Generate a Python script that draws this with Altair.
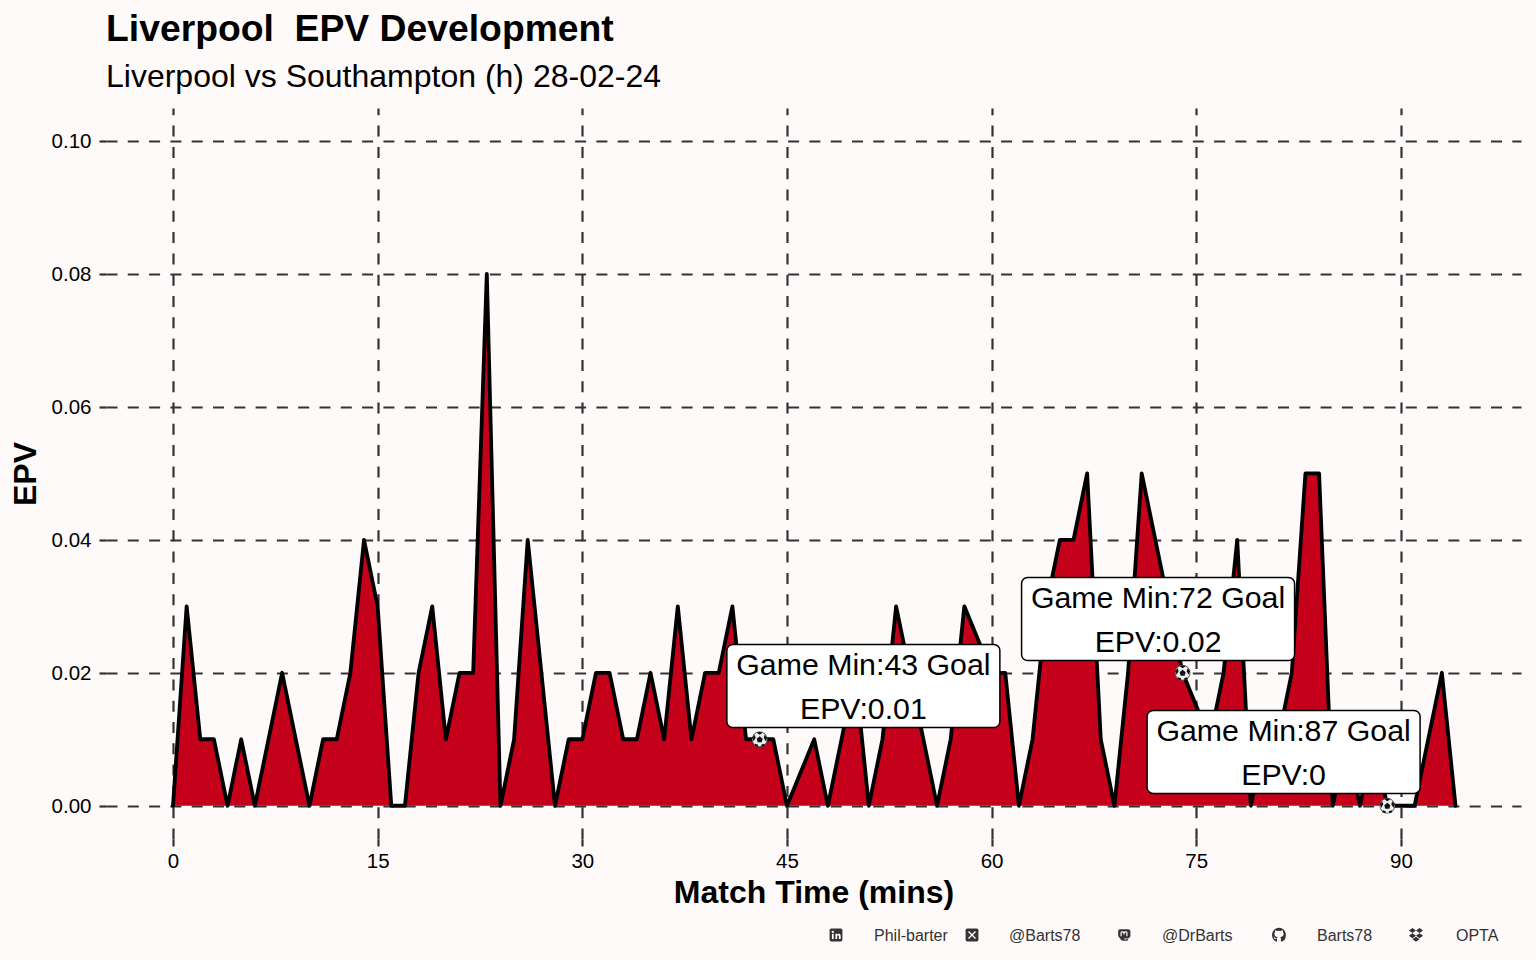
import base64
import altair as alt
import pandas as pd

minutes = [0,1,2,3,4,5,6,7,8,9,10,11,12,13,14,15,16,17,18,19,20,21,22,23,24,25,26,27,28,29,30,
           31,32,33,34,35,36,37,38,39,40,41,42,43,44,45,47,48,49,50,51,52,53,54,55,56,57,58,60,61,62,
           63,64,65,66,67,68,69,70,71,72,73,74,76,77,78,79,80,81,82,83,84,85,86,87,88,89,90,91,93,94]
epv = [0,.03,.01,.01,0,.01,0,.01,.02,.01,0,.01,.01,.02,.04,.03,0,0,.02,.03,.01,.02,.02,.08,0,.01,.04,.02,0,.01,.01,
       .02,.02,.01,.01,.02,.01,.03,.01,.02,.02,.03,.01,.01,.01,0,.01,0,.01,.02,0,.01,.03,.02,.01,0,.01,.03,.02,.02,0,
       .01,.03,.04,.04,.05,.01,0,.02,.05,.04,.03,.02,.01,.02,.04,0,.01,.01,.02,.05,.05,0,.01,0,.01,0,0,0,.02,0]

goal_minutes = [43, 74, 89]
goal_epv = [.01, .02, 0]

label_x = [50.6, 72.2, 81.4]
label_y = [.018, .0281, .0081]
label_text = ["Game Min:43 Goal\nEPV:0.01", "Game Min:72 Goal\nEPV:0.02", "Game Min:87 Goal\nEPV:0"]

x_ticks = [0, 15, 30, 45, 60, 75, 90]
y_ticks = [0, .02, .04, .06, .08, .10]
footer_text = ["Phil-barter", "@Barts78", "@DrBarts", "Barts78", "OPTA"]

BG = "#FFFAFA"
RED = "#C5001A"
GRID = "#333333"
FONT = "Liberation Sans"
LEFT, TOP = 98, 100
W, H = 1415, 731


def uri(svg):
    return "data:image/svg+xml;base64," + base64.b64encode(svg.encode()).decode()


ball = uri('<svg xmlns="http://www.w3.org/2000/svg" viewBox="0 0 32 32">'
           '<circle cx="16" cy="16" r="15" fill="#eeeeee" stroke="#555" stroke-width="2"/>'
           '<polygon points="16,10 22,15 20,22 12,22 10,15" fill="#111"/>'
           '<polygon points="16,1 22,3 16,7 10,3" fill="#111"/>'
           '<polygon points="1,13 6,7 8,13 4,20" fill="#111"/>'
           '<polygon points="31,13 26,7 24,13 28,20" fill="#111"/>'
           '<polygon points="7,25 13,27 12,31 6,29" fill="#111"/>'
           '<polygon points="25,25 19,27 20,31 26,29" fill="#111"/></svg>')
ICON = "#333333"
icons = [
    f'<rect x="1" y="1" width="22" height="22" rx="3" fill="{ICON}"/>'
    '<rect x="5" y="10" width="3" height="9" fill="#fff"/><circle cx="6.5" cy="6.5" r="2" fill="#fff"/>'
    '<path d="M11 19V10h3v1.5c1-2 6-2.5 6 2V19h-3v-5c0-2-3-2-3 0v5z" fill="#fff"/>',
    f'<rect x="1" y="1" width="22" height="22" rx="3" fill="{ICON}"/>'
    '<path d="M6 6L18 18M18 6L6 18" stroke="#fff" stroke-width="2.4"/>',
    f'<path d="M5 2h14c3 0 4 2 4 4v7c0 3-2 5-5 5h-6c0 2 3 2 7 1v2c-6 2-13 1-14-4-2-1-3-3-3-6V6c0-2 1-4 3-4z" fill="{ICON}"/>'
    '<path d="M7 14V8c0-2 5-2 5 1v2 M12 11V9c0-3 5-3 5-1v6" fill="none" stroke="#fff" stroke-width="2"/>',
    f'<path d="M12 1a11 11 0 0 0-4 21c1 0 1-.5 1-1v-3c-3 .6-4-1-4.400-2-.3-.6-1-1-1-1.300 1-.2 2 .6 2.500 1.500 1 1.500 2.500 1 3 .7 0-.7.5-1.300 1-1.600-3-.4-5-1.500-5-5 0-1 .4-2 1-2.600-.2-.5-.4-1.600.2-3 1 0 2 .6 3 1.200a10 10 0 0 1 5.400 0c1-.6 2-1.300 3-1.200.6 1.400.4 2.500.2 3 .6.6 1 1.600 1 2.600 0 3.500-2 4.600-5 5 .6.500 1 1.300 1 2.500V21c0 .5 0 1 1 1A11 11 0 0 0 12 1z" fill="{ICON}"/>',
    f'<path d="M7 2l5 3.500-5 3.500-5-3.500zM17 2l5 3.500-5 3.500-5-3.500zM7 9.500l5 3.500-5 3.500-5-3.500zM17 9.500l5 3.500-5 3.500-5-3.500zM12 14.500l5 3.500-5 3.500-5-3.500z" fill="{ICON}"/>',
]
icons = [uri(f'<svg xmlns="http://www.w3.org/2000/svg" viewBox="0 0 24 24">{s}</svg>') for s in icons]
icon_size = [14, 14, 14, 16, 17]

df = pd.DataFrame({"minute": minutes, "epv": epv})
goals = pd.DataFrame({"minute": goal_minutes, "epv": goal_epv})
labels = pd.DataFrame({"x": label_x, "y": label_y, "text": label_text})

x_scale = alt.Scale(domain=[-4.91, 98.8], nice=False, zero=False)
y_scale = alt.Scale(domain=[-.005, .10495], nice=False, zero=False)

x_enc = alt.X("minute:Q", scale=x_scale, title="Match Time (mins)",
              axis=alt.Axis(values=x_ticks, format="d", titlePadding=6, labelPadding=5, gridDashOffset=4.2))
y_enc = alt.Y("epv:Q", scale=y_scale, title="EPV",
              axis=alt.Axis(values=y_ticks, format=".2f", titlePadding=9, labelPadding=8, labelOffset=1))

area = alt.Chart(df).mark_area(color=RED, opacity=1).encode(x=x_enc, y=y_enc, y2=alt.datum(0))
line = alt.Chart(df).mark_line(color="black", strokeWidth=3.8, strokeJoin="round", strokeCap="round").encode(
    x=alt.X("minute:Q", scale=x_scale), y=alt.Y("epv:Q", scale=y_scale))
balls = alt.Chart(goals).mark_image(url=ball, width=16, height=16).encode(
    x=alt.X("minute:Q", scale=x_scale), y=alt.Y("epv:Q", scale=y_scale))
boxes = alt.Chart(labels).mark_rect(width=273, height=83, fill="white", stroke="black", strokeWidth=1.5,
                                    cornerRadius=6).encode(
    x=alt.X("x:Q", scale=x_scale), y=alt.Y("y:Q", scale=y_scale))
texts = alt.Chart(labels).mark_text(font=FONT, fontSize=30.3, color="black", align="center", baseline="middle",
                                    lineBreak="\n", lineHeight=44, dy=-20).encode(
    x=alt.X("x:Q", scale=x_scale), y=alt.Y("y:Q", scale=y_scale), text="text:N")

layers = [area, line, balls, boxes, texts]

# footer strip, placed in page pixels
icon_px = [836, 972, 1124, 1279, 1416]
text_px = [874, 1009, 1162, 1317, 1456]
footer_y = 936 - (8 + TOP)
blank = alt.Chart(pd.DataFrame({"a": [0]}))
for u, s, t, ix, tx in zip(icons, icon_size, footer_text, icon_px, text_px):
    layers.append(blank.mark_image(url=u, width=s, height=s).encode(
        x=alt.value(ix - 8 - LEFT), y=alt.value(footer_y - 1)))
    layers.append(blank.mark_text(text=t, font=FONT, fontSize=16, color="#333333", align="left",
                                  baseline="middle").encode(
        x=alt.value(tx - 8 - LEFT), y=alt.value(footer_y)))

chart = alt.layer(*layers).properties(
    width=W, height=H,
    background=BG,
    padding={"left": LEFT, "top": TOP, "right": 5, "bottom": 113},
    autosize=alt.AutoSizeParams(type="none"),
    title=alt.TitleParams(
        text="Liverpool\u00a0\u00a0EPV Development", subtitle="Liverpool vs Southampton (h) 28-02-24",
        anchor="start", frame="group", font=FONT, fontSize=37.3, fontWeight="bold", color="black",
        subtitleFont=FONT, subtitleFontSize=32, subtitleColor="black", subtitlePadding=12, offset=14.5),
).configure_view(stroke=None, fill=None).configure_axis(
    domain=False, labelFont=FONT, labelFontSize=20.5, labelColor="black",
    titleFont=FONT, titleFontSize=32, titleFontWeight="bold", titleColor="black",
    grid=True, gridColor=GRID, gridWidth=2.2, gridDash=[11, 10.3], gridOpacity=1,
    tickColor=GRID, tickWidth=2.2, tickSize=7,
)

chart.save("out.html", embed_options={"renderer": "svg", "actions": False,
                                      "defaultStyle": "html,body{background:#FFFAFA}"})
